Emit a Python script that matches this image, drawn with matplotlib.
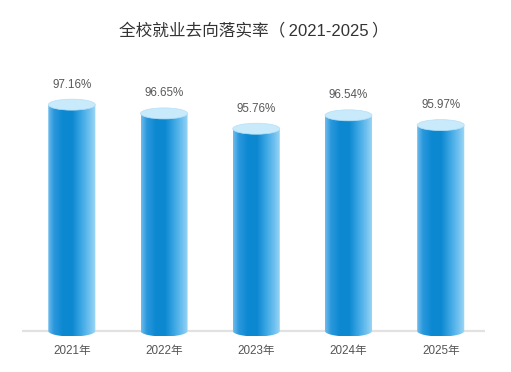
import numpy as np
import matplotlib
matplotlib.use("Agg")
import matplotlib.pyplot as plt
from matplotlib.colors import LinearSegmentedColormap
from matplotlib.patches import Ellipse, Polygon

plt.rcParams['font.family'] = ['Liberation Sans', 'Noto Sans CJK SC', 'DejaVu Sans']

title = "全校就业去向落实率（\u20092021-2025\u2009）"
categories = ["2021年", "2022年", "2023年", "2024年", "2025年"]
values = [97.16, 96.65, 95.76, 96.54, 95.97]
labels = ["97.16%", "96.65%", "95.76%", "96.54%", "95.97%"]

W, H = 511, 372
fig = plt.figure(figsize=(W / 100, H / 100), dpi=100)

px_per_unit = 17.2
base = 84.0
ax_top_px, ax_bot_px, base_px = 60, 341, 331
ax = fig.add_axes([22 / W, (H - ax_bot_px) / H, 463 / W, (ax_bot_px - ax_top_px) / H])
ax.set_xlim(-0.54, 4.48)
ax.set_ylim(base - (ax_bot_px - base_px) / px_per_unit, base + (base_px - ax_top_px) / px_per_unit)
for s in ax.spines.values():
    s.set_visible(False)
ax.set_yticks([])
x = np.arange(len(categories))
ax.set_xticks(x)
ax.set_xticklabels(categories, fontsize=8.4, color='#555555')
ax.tick_params(axis='x', length=0, pad=3)

ax.axhline(base, color='#e2e2e2', lw=1.6, zorder=1)

cmap = LinearSegmentedColormap.from_list('cyl', [
    (0.0, '#6fbdee'), (0.12, '#2c98dd'), (0.3, '#0d89d2'), (0.5, '#0b88d0'),
    (0.7, '#3ea7e4'), (0.88, '#74c3f0'), (1.0, '#a0d8f6')])
grad = np.linspace(0, 1, 256).reshape(1, -1)

bw = 0.51
eh = 11 / px_per_unit
for xi, v, lab in zip(x, values, labels):
    t = np.linspace(np.pi, 2 * np.pi, 60)
    arc_x = xi + bw / 2 * np.cos(t)
    arc_y = base + eh / 2 * np.sin(t)
    pts = np.vstack([
        [[xi - bw / 2, v]],
        np.column_stack([arc_x, arc_y]),
        [[xi + bw / 2, v]],
    ])
    poly = Polygon(pts, closed=True, facecolor='none', edgecolor='none', transform=ax.transData)
    ax.add_patch(poly)
    im = ax.imshow(grad, cmap=cmap, aspect='auto', interpolation='bicubic',
                   extent=[xi - bw / 2, xi + bw / 2, base - eh / 2, v], zorder=2)
    im.set_clip_path(poly)
    ax.add_patch(Ellipse((xi, v), bw, eh, facecolor='#c8eafb', edgecolor='#b6e0f7',
                         lw=0.5, zorder=3))
    ax.text(xi, v + 20 / px_per_unit, lab, ha='center', va='center',
            fontsize=8.4, color='#595959', zorder=4)

fig.text(253.5 / W, 1 - 30 / H, title, ha='center', va='center', fontsize=12, color='#333333')

fig.savefig('out.png', dpi=100)
